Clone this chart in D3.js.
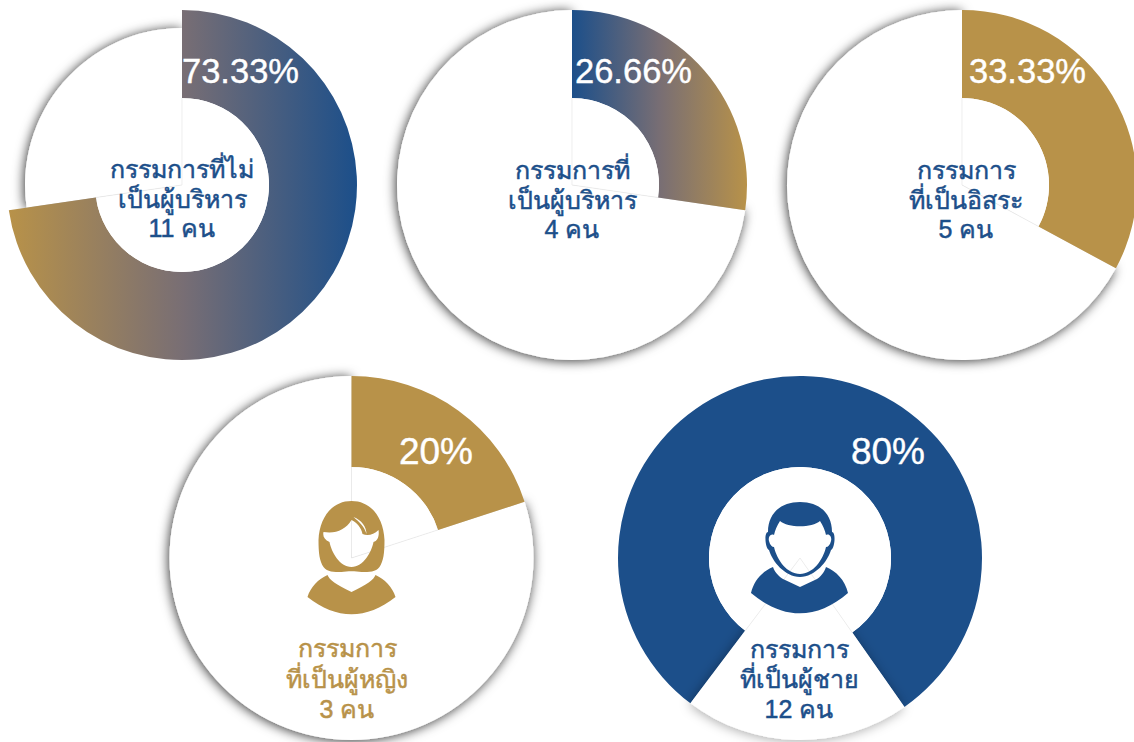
<!DOCTYPE html>
<html lang="th">
<head>
<meta charset="UTF-8">
<title>สัดส่วนกรรมการ</title>
<script src="https://cdn.jsdelivr.net/npm/d3@7/dist/d3.min.js"></script>
<style>
	html, body { margin: 0; padding: 0; background: #fff; overflow: hidden; }
	text { font-family: "Liberation Sans", "Noto Sans", sans-serif; }
</style>
</head>
<body>
<svg width="1134" height="742"></svg>
<script>
	const gold = "#b89249", blue = "#1c4f8a", midTone = "#786e74";

	// shares as drawn in the picture (the printed labels differ slightly)
	const shares = [72.7, 27.3, 32.9, 20, 80];
	const percentLabels = ["73.33%", "26.66%", "33.33%", "20%", "80%"];
	const captions = [
		["กรรมการที่ไม่", "เป็นผู้บริหาร", "11 คน"],
		["กรรมการที่", "เป็นผู้บริหาร", "4 คน"],
		["กรรมการ", "ที่เป็นอิสระ", "5 คน"],
		["กรรมการ", "ที่เป็นผู้หญิง", "3 คน"],
		["กรรมการ", "ที่เป็นผู้ชาย", "12 คน"]
	];
	const fills = ["url(#grad0)", "url(#grad1)", gold, gold, blue];
	const captionColors = [blue, blue, blue, gold, blue];

	// layout of each ring, not data
	const layout = [
		{ cx: 182, cy: 185, r: 175, inner: 87, rest: 157, start: 0, label: [240.5, 71], size: 34.5, cap: [182, 178], line: 29.5, restOnTop: false, icon: null },
		{ cx: 572, cy: 185, r: 175, inner: 87, rest: 175, start: 0, label: [633.5, 71], size: 34.5, cap: [572, 179], line: 29.5, restOnTop: false, icon: null },
		{ cx: 962, cy: 185, r: 175, inner: 87, rest: 175, start: 0, label: [1027.5, 71], size: 34.5, cap: [966, 179], line: 29.5, restOnTop: false, icon: null },
		{ cx: 351.5, cy: 558, r: 182, inner: 91, rest: 182, start: 0, label: [436, 451], size: 37, cap: [347, 657], line: 30.5, restOnTop: false, icon: "f" },
		{ cx: 800, cy: 558, r: 182, inner: 91, rest: 182, start: 217, label: [888, 451], size: 37, cap: [799, 658], line: 30, restOnTop: true, icon: "m" }
	];

	const svg = d3.select("svg");
	const defs = svg.append("defs");

	function dropShadow(id, blur, opacity) {
		defs.append("filter").attr("id", id)
			.attr("x", "-15%").attr("y", "-15%").attr("width", "130%").attr("height", "130%")
			.append("feDropShadow")
			.attr("dx", -1).attr("dy", 1).attr("stdDeviation", blur)
			.attr("flood-color", "#000").attr("flood-opacity", opacity);
	}
	dropShadow("shadow", 6, 0.8);
	dropShadow("softShadow", 6, 0.35);

	function gradient(id, x1, x2, c1, c2) {
		const g = defs.append("linearGradient").attr("id", id)
			.attr("gradientUnits", "userSpaceOnUse")
			.attr("x1", x1).attr("x2", x2).attr("y1", 0).attr("y2", 0);
		g.append("stop").attr("offset", 0).attr("stop-color", c1);
		g.append("stop").attr("offset", 0.5).attr("stop-color", midTone);
		g.append("stop").attr("offset", 1).attr("stop-color", c2);
	}
	// coordinates are local to each ring
	gradient("grad0", -173, 175, gold, blue);
	gradient("grad1", 0, 175, blue, gold);

	const rad = Math.PI / 180;
	const arc = d3.arc();

	const rings = svg.selectAll("g.ring")
		.data(shares)
		.enter()
		.append("g")
		.attr("class", "ring")
		.attr("transform", (d, i) => `translate(${layout[i].cx},${layout[i].cy})`);

	rings.each(function (share, i) {
		const g = d3.select(this), l = layout[i];
		const pie = d3.pie().sort(null)
			.startAngle(l.start * rad).endAngle((l.start + 360) * rad);
		const [big, rest] = pie([share, 100 - share]);

		function drawRest() {
			g.append("path")
				.attr("d", arc({ innerRadius: 0, outerRadius: l.rest, startAngle: rest.startAngle, endAngle: rest.endAngle }))
				.attr("fill", "#fff")
				.attr("filter", l.restOnTop ? "url(#softShadow)" : "url(#shadow)");
		}
		function drawBig() {
			g.append("path")
				.attr("d", arc({ innerRadius: l.inner, outerRadius: l.r, startAngle: big.startAngle, endAngle: big.endAngle }))
				.attr("fill", fills[i]);
		}
		if (l.restOnTop) { drawBig(); drawRest(); } else { drawRest(); drawBig(); }

		// hollow wedge in the middle of the coloured part
		g.append("path")
			.attr("d", arc({ innerRadius: 0, outerRadius: l.inner, startAngle: big.startAngle, endAngle: big.endAngle }))
			.attr("fill", "#fff");

		// hairlines from the centre along both edges of the wedge
		g.selectAll("line.edge")
			.data([big.startAngle, big.endAngle])
			.enter()
			.append("line")
			.attr("class", "edge")
			.attr("x2", a => d3.pointRadial(a, l.inner)[0])
			.attr("y2", a => d3.pointRadial(a, l.inner)[1])
			.attr("stroke", "#e2e2e2")
			.attr("stroke-width", 0.6);
	});

	const femaleIcon = "M0-57C-20-57-32-40-33-18C-33-5-32 3-28 9C-24 14-18 14-10 14C-4 13 4 13 10 14C18 14 24 14 28 9C32 3 33-5 33-18C32-40 20-57 0-57Z"
		+ "M0-38C-6-28-16-24-28-26C-29-22-27-18-22-16C-20-6-12 9 0 9C12 9 20-6 22-16C26-17 28-22 27-28C22-23 16-22 11-24C10-30 5-36 0-38Z"
		+ "M2-41C10-38 15-31 15-24C13-31 8-36 2-41Z"
		+ "M-24 17C-33 21-41 29-44 39C-15 62 15 62 44 39C41 29 33 21 24 17C22 22 16 26 0 34C-16 26-22 22-24 17Z";
	const maleIcon = "M0-56C-19-56-32-45-32-26C-36-26-35-10-31-8C-28 3-15 19 0 19C15 19 28 3 31-8C35-10 36-26 32-26C32-45 19-56 0-56Z"
		+ "M-20-37C-12-30 12-30 20-37C23-32 25-28 26-23C30-25 32-20 31-17C30-13 28-11 26-11C23 2 13 16 0 16C-13 16-23 2-26-11C-28-11-30-13-31-17C-32-20-30-25-26-23C-25-28-23-32-20-37Z"
		+ "M-27 9C-37 13-46 22-49 35C-17 62 17 62 48 35C45 22 36 13 26 9C24 15 20 19 17 21L0 29L-17 21C-20 19-25 15-27 9Z";

	rings.filter((d, i) => layout[i].icon)
		.append("path")
		.attr("d", (d, i) => i === 0 ? femaleIcon : maleIcon)
		.attr("fill", (d, i) => i === 0 ? gold : blue)
		.attr("fill-rule", "evenodd");

	// percentages
	svg.selectAll("text.pct")
		.data(percentLabels)
		.enter()
		.append("text")
		.attr("class", "pct")
		.attr("x", (d, i) => layout[i].label[0])
		.attr("y", (d, i) => layout[i].label[1])
		.attr("dy", "0.35em")
		.attr("text-anchor", "middle")
		.attr("fill", "#fff")
		.attr("stroke", "#fff")
		.attr("stroke-width", 0.4)
		.attr("font-size", (d, i) => layout[i].size)
		.text(d => d);

	// captions
	const caps = svg.selectAll("text.cap")
		.data(captions)
		.enter()
		.append("text")
		.attr("class", "cap")
		.attr("text-anchor", "middle")
		.attr("fill", (d, i) => captionColors[i])
		.attr("stroke", (d, i) => captionColors[i])
		.attr("stroke-width", 0.5)
		.attr("font-size", 25);
	caps.each(function (lines, i) {
		d3.select(this).selectAll("tspan")
			.data(lines)
			.enter()
			.append("tspan")
			.attr("x", layout[i].cap[0])
			.attr("y", (d, j) => layout[i].cap[1] + j * layout[i].line)
			.text(d => d);
	});
</script>
</body>
</html>
